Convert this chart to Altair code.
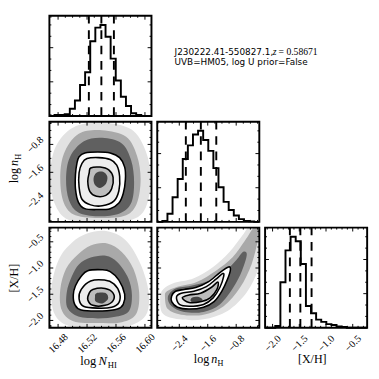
import altair as alt
import numpy as np
import pandas as pd

# ---------------- axis ranges / ticks ----------------
NHI_RANGE = [16.468, 16.609]
NH_RANGE = [-3.02, -0.15]
XH_RANGE = [-2.14, -0.23]
HIST_RANGE = [0.0, 1.1]

NHI_MAJOR = [16.48, 16.52, 16.56, 16.60]
NHI_MINOR = [16.47, 16.49, 16.50, 16.51, 16.53, 16.54, 16.55, 16.57, 16.58, 16.59]
NH_MAJOR = [-2.4, -1.6, -0.8]
NH_MINOR = [-3.0, -2.8, -2.6, -2.2, -2.0, -1.8, -1.4, -1.2, -1.0, -0.6, -0.4, -0.2]
XH_MAJOR = [-2.0, -1.5, -1.0, -0.5]
XH_MINOR = [-2.1, -1.9, -1.8, -1.7, -1.6, -1.4, -1.3, -1.2, -1.1, -0.9, -0.8, -0.7, -0.6, -0.4, -0.3]
HIST_MAJOR = [0.375, 0.75]
HIST_MINOR = [0.125, 0.25, 0.5, 0.625, 0.875, 1.0]

# ---------------- 1-D histograms (20 bins, peak-normalised) ----------------
NHI_HIST = [0.0, 0.01, 0.01, 0.02, 0.08, 0.17, 0.34, 0.48, 0.82, 0.97, 1.0, 0.87, 0.63, 0.39, 0.21, 0.11, 0.03, 0.01, 0.0, 0.0]
NH_HIST = [0.0, 0.01, 0.09, 0.27, 0.47, 0.69, 0.84, 0.96, 1.0, 0.90, 0.78, 0.59, 0.38, 0.22, 0.13, 0.07, 0.03, 0.01, 0.005, 0.0]
XH_HIST = [0.0, 0.0, 0.02, 0.5, 0.85, 1.0, 0.95, 0.7, 0.24, 0.16, 0.09, 0.065, 0.04, 0.03, 0.015, 0.01, 0.0, 0.0, 0.0, 0.0]

NHI_Q = [16.5225, 16.5398, 16.5571]
NH_Q = [-2.216, -1.794, -1.36]
XH_Q = [-1.676, -1.48, -1.27]

# ---------------- 2-D panels: point clouds and contours ----------------
# panel A: log N_HI (x) vs log n_H (y)
A_H1_X = [16.501, 16.541, 16.581, 16.601, 16.608, 16.601, 16.581, 16.541, 16.495, 16.475, 16.469, 16.477]
A_H1_Y = [-0.312, -0.177, -0.367, -0.989, -1.802, -2.614, -2.966, -3.020, -2.966, -2.479, -1.666, -0.854]
A_H2_X = [16.508, 16.541, 16.574, 16.589, 16.594, 16.589, 16.574, 16.541, 16.504, 16.488, 16.483, 16.488]
A_H2_Y = [-0.502, -0.394, -0.583, -1.125, -1.802, -2.479, -2.831, -2.912, -2.831, -2.479, -1.802, -1.071]
A_H3_X = [16.515, 16.541, 16.568, 16.581, 16.585, 16.581, 16.565, 16.535, 16.508, 16.495, 16.491, 16.496]
A_H3_Y = [-0.719, -0.610, -0.773, -1.260, -1.883, -2.479, -2.777, -2.858, -2.750, -2.398, -1.802, -1.179]
A_C1_X = [16.517, 16.535, 16.552, 16.565, 16.572, 16.573, 16.570, 16.564, 16.552, 16.535, 16.517, 16.508, 16.504, 16.504, 16.506, 16.509]
A_C1_Y = [-1.044, -1.017, -1.044, -1.179, -1.450, -1.802, -2.208, -2.479, -2.641, -2.668, -2.641, -2.452, -2.073, -1.666, -1.342, -1.152]
A_C2_X = [16.520, 16.536, 16.552, 16.561, 16.565, 16.564, 16.557, 16.541, 16.525, 16.513, 16.509, 16.509, 16.513]
A_C2_Y = [-1.206, -1.179, -1.233, -1.396, -1.721, -2.127, -2.425, -2.560, -2.533, -2.371, -2.018, -1.612, -1.342]
A_C3_X = [16.525, 16.538, 16.550, 16.556, 16.554, 16.546, 16.533, 16.524, 16.521, 16.523]
A_C3_Y = [-1.477, -1.450, -1.531, -1.748, -2.073, -2.262, -2.289, -2.154, -1.856, -1.612]
A_C4_X = [16.533, 16.542, 16.548, 16.546, 16.538, 16.531, 16.529]
A_C4_Y = [-1.612, -1.585, -1.721, -1.937, -2.046, -1.964, -1.775]

# panel B: log N_HI (x) vs [X/H] (y)
B_H1_X = [16.521, 16.548, 16.574, 16.594, 16.605, 16.601, 16.574, 16.535, 16.495, 16.475, 16.471, 16.481, 16.499]
B_H1_Y = [-0.337, -0.301, -0.480, -0.926, -1.462, -1.908, -2.122, -2.140, -2.104, -1.872, -1.372, -0.837, -0.516]
B_H2_X = [16.525, 16.548, 16.568, 16.584, 16.592, 16.588, 16.568, 16.535, 16.501, 16.485, 16.483, 16.491, 16.507]
B_H2_Y = [-0.569, -0.533, -0.694, -1.015, -1.462, -1.872, -2.033, -2.051, -2.015, -1.801, -1.408, -1.015, -0.748]
B_H3_X = [16.525, 16.546, 16.562, 16.577, 16.582, 16.578, 16.561, 16.535, 16.508, 16.493, 16.492, 16.499, 16.509]
B_H3_Y = [-0.801, -0.766, -0.890, -1.194, -1.515, -1.819, -1.926, -1.961, -1.926, -1.765, -1.462, -1.158, -0.926]
B_C1_X = [16.521, 16.541, 16.552, 16.564, 16.572, 16.570, 16.562, 16.541, 16.512, 16.503, 16.501, 16.504, 16.512]
B_C1_Y = [-1.051, -1.033, -1.069, -1.230, -1.497, -1.694, -1.783, -1.819, -1.801, -1.694, -1.515, -1.337, -1.158]
B_C2_X = [16.525, 16.544, 16.557, 16.565, 16.564, 16.554, 16.535, 16.515, 16.509, 16.512]
B_C2_Y = [-1.247, -1.230, -1.301, -1.480, -1.658, -1.747, -1.765, -1.729, -1.587, -1.408]
B_C3_X = [16.528, 16.545, 16.556, 16.556, 16.545, 16.528, 16.521, 16.523]
B_C3_Y = [-1.408, -1.390, -1.480, -1.622, -1.712, -1.712, -1.604, -1.480]
B_C4_X = [16.533, 16.546, 16.549, 16.541, 16.532, 16.531]
B_C4_Y = [-1.480, -1.480, -1.587, -1.676, -1.640, -1.551]

# panel C: log n_H (x) vs [X/H] (y)
C_H1_X = [-2.939, -2.858, -2.397, -1.720, -1.043, -0.502, -0.177, -0.014, -0.014, -0.366, -0.637, -0.989, -1.449, -1.991, -2.533, -2.858]
C_H1_Y = [-1.587, -1.872, -1.979, -1.979, -1.819, -1.462, -1.015, -0.480, -0.159, -0.159, -0.391, -0.694, -0.980, -1.194, -1.283, -1.408]
C_H2_X = [-2.803, -2.722, -2.343, -1.720, -1.152, -0.691, -0.366, -0.177, -0.096, -0.285, -0.556, -0.908, -1.368, -1.910, -2.451, -2.749]
C_H2_Y = [-1.551, -1.783, -1.890, -1.890, -1.729, -1.372, -0.926, -0.444, -0.212, -0.212, -0.480, -0.801, -1.051, -1.265, -1.355, -1.444]
C_H3_X = [-2.722, -2.614, -2.262, -1.720, -1.260, -0.881, -0.637, -0.502, -0.610, -0.827, -1.179, -1.585, -2.072, -2.506]
C_H3_Y = [-1.551, -1.729, -1.837, -1.837, -1.694, -1.372, -1.051, -0.748, -0.694, -0.873, -1.105, -1.247, -1.337, -1.390]
C_C1_X = [-2.614, -2.506, -2.262, -1.937, -1.585, -1.260, -1.016, -0.962, -1.043, -1.206, -1.422, -1.720, -2.126, -2.451, -2.614]
C_C1_Y = [-1.533, -1.444, -1.408, -1.372, -1.265, -1.087, -0.980, -1.033, -1.212, -1.444, -1.640, -1.747, -1.783, -1.747, -1.640]
C_C2_X = [-2.478, -2.343, -1.991, -1.639, -1.368, -1.179, -1.152, -1.260, -1.449, -1.720, -2.126, -2.397]
C_C2_Y = [-1.551, -1.480, -1.444, -1.355, -1.212, -1.105, -1.158, -1.372, -1.569, -1.694, -1.729, -1.694]
C_C3_X = [-2.316, -2.126, -1.802, -1.504, -1.314, -1.341, -1.531, -1.774, -2.126]
C_C3_Y = [-1.569, -1.515, -1.480, -1.372, -1.265, -1.408, -1.569, -1.640, -1.658]
C_C4_X = [-2.045, -1.856, -1.747, -1.883, -2.072]
C_C4_Y = [-1.569, -1.551, -1.604, -1.658, -1.640]

TITLE_LINE1 = "J230222.41-550827.1,"
TITLE_Z = "z"
TITLE_ZVAL = "= 0.58671"
TITLE_LINE2 = "UVB=HM05, log U prior=False"

# ---------------- styling ----------------
W, H = 106, 104
SERIF = "Liberation Serif"
SANS = "DejaVu Sans"
FILL_LEVELS = ["#e2e2e2", "#a9a9a9", "#606060"]
CONTOUR_FILLS = ["#ffffff", "#ededed", "#bdbdbd", "#454545"]
ONE = pd.DataFrame({"k": [0]})


def sc(rng):
    return alt.Scale(domain=rng, nice=False, zero=False)


def label_axis(values, fmt, orient, **extra):
    return alt.Axis(values=values, format=fmt, ticks=False, tickSize=0, domain=False,
                    grid=False, labelAngle=315, labelAlign="center", labelBaseline="middle",
                    labelPadding=16 if orient == "x" else 15, labelFont=SERIF, labelFontSize=10.5,
                    labelColor="black", labelOverlap=False, labelFlush=False,
                    orient="bottom" if orient == "x" else "left", **extra)


class Panel:
    def __init__(self, xr, yr, xax=None, yax=None):
        self.xr, self.yr, self.xax, self.yax = xr, yr, xax, yax
        self.layers = []

    def X(self, f="x"):
        return alt.X(f + ":Q", scale=sc(self.xr), axis=self.xax)

    def Y(self, f="y"):
        return alt.Y(f + ":Q", scale=sc(self.yr), axis=self.yax)

    def poly(self, xs, ys, fill=None, stroke=None, sw=0.0):
        df = pd.DataFrame({"x": xs, "y": ys, "i": range(len(xs))})
        kw = dict(interpolate="cardinal-closed", clip=True)
        if fill:
            kw["fill"] = fill
        if stroke:
            kw["stroke"] = stroke
            kw["strokeWidth"] = sw
        else:
            kw["strokeOpacity"] = 0
        self.layers.append(alt.Chart(df).mark_line(**kw).encode(
            x=self.X(), y=self.Y(), order=alt.Order("i:Q")))

    def hist(self, counts):
        edges = np.linspace(self.xr[0], self.xr[1], len(counts) + 1)
        ys = list(counts) + [counts[-1]]
        df = pd.DataFrame({"x": edges, "y": ys})
        self.layers.append(alt.Chart(df).mark_line(interpolate="step-after", color="black", strokeWidth=2).encode(
            x=self.X(), y=self.Y()))

    def quantiles(self, qs):
        df = pd.DataFrame({"x": qs})
        self.layers.append(alt.Chart(df).mark_rule(color="black", strokeWidth=2, strokeDash=[9, 7]).encode(
            x=self.X(), y=alt.value(H), y2=alt.value(0)))

    def ticks(self, xmaj, xmin, ymaj, ymin):
        for vals, L in ((xmaj, 4), (xmin, 2)):
            df = pd.DataFrame({"x": vals})
            for a, b in ((H, H - L), (0, L)):
                self.layers.append(alt.Chart(df).mark_rule(color="black", strokeWidth=1).encode(
                    x=self.X(), y=alt.value(a), y2=alt.value(b)))
        for vals, L in ((ymaj, 4), (ymin, 2)):
            df = pd.DataFrame({"y": vals})
            for a, b in ((0, L), (W, W - L)):
                self.layers.append(alt.Chart(df).mark_rule(color="black", strokeWidth=1).encode(
                    y=self.Y(), x=alt.value(a), x2=alt.value(b)))

    def frame(self):
        self.layers.append(alt.Chart(ONE).mark_rect(filled=False, stroke="black", strokeWidth=2).encode(
            x=alt.value(0), x2=alt.value(W), y=alt.value(0), y2=alt.value(H)))

    def text(self, txt, x, y, size, font=SERIF, style="normal", angle=0, dx=0, dy=0, align="left"):
        kw = dict(text=txt, font=font, fontSize=size, fontStyle=style, align=align, baseline="alphabetic",
                  color="black", dx=dx, dy=dy)
        if angle:
            kw["angle"] = angle
        self.layers.append(alt.Chart(ONE).mark_text(**kw).encode(x=alt.value(x), y=alt.value(y)))

    def chart(self):
        return alt.layer(*self.layers).properties(width=W, height=H)


def panel2d(xr, yr, xax, yax, hs, cs, xt, yt):
    p = Panel(xr, yr, xax, yax)
    for (xs, ys), f in zip(hs, FILL_LEVELS):
        p.poly(xs, ys, fill=f)
    for (xs, ys), f in zip(cs, CONTOUR_FILLS):
        p.poly(xs, ys, fill=f)
    for xs, ys in cs[:3]:
        p.poly(xs, ys, stroke="black", sw=1.6)
    p.ticks(xt[0], xt[1], yt[0], yt[1])
    p.frame()
    return p


def panel1d(xr, counts, qs, xt, xax=None):
    p = Panel(xr, HIST_RANGE, xax, None)
    p.hist(counts)
    p.quantiles(qs)
    p.ticks(xt[0], xt[1], HIST_MAJOR, HIST_MINOR)
    p.frame()
    return p


def blank():
    return alt.Chart(ONE).mark_point(opacity=0, size=1).encode(
        x=alt.value(W / 2), y=alt.value(H / 2)).properties(width=W, height=H)


NHI_T = (NHI_MAJOR, NHI_MINOR)
NH_T = (NH_MAJOR, NH_MINOR)
XH_T = (XH_MAJOR, XH_MINOR)

# row 1
h1 = panel1d(NHI_RANGE, NHI_HIST, NHI_Q, NHI_T)
ann = Panel(NHI_RANGE, HIST_RANGE)
ann.text(TITLE_LINE1, 18, 41, 9.2, font=SANS)
ann.text(TITLE_Z, 120, 41, 10, style="italic")
ann.text(TITLE_ZVAL, 126, 41, 10)
ann.text(TITLE_LINE2, 18, 51, 9.2, font=SANS)

# row 2
pa = panel2d(NHI_RANGE, NH_RANGE, None, label_axis(NH_MAJOR, ".1f", "y", title=None),
             [(A_H1_X, A_H1_Y), (A_H2_X, A_H2_Y), (A_H3_X, A_H3_Y)],
             [(A_C1_X, A_C1_Y), (A_C2_X, A_C2_Y), (A_C3_X, A_C3_Y), (A_C4_X, A_C4_Y)], NHI_T, NH_T)
pa.text("log", -33, 64, 12.5, angle=270)
pa.text("n", -33, 64, 12.5, style="italic", angle=270, dx=18)
pa.text("H", -33, 64, 8.5, angle=270, dx=24.5, dy=3)
h2 = panel1d(NH_RANGE, NH_HIST, NH_Q, NH_T)

# row 3
xh_left = label_axis(XH_MAJOR, ".1f", "y", title="[X/H]", titleFont=SERIF, titleFontSize=12.5,
                     titleFontWeight="normal", titleColor="black", titleX=-33, titleY=H / 2,
                     titleAngle=270, titleAlign="center", titleBaseline="alphabetic")
pb = panel2d(NHI_RANGE, XH_RANGE, label_axis(NHI_MAJOR, ".2f", "x", title=None), xh_left,
             [(B_H1_X, B_H1_Y), (B_H2_X, B_H2_Y), (B_H3_X, B_H3_Y)],
             [(B_C1_X, B_C1_Y), (B_C2_X, B_C2_Y), (B_C3_X, B_C3_Y), (B_C4_X, B_C4_Y)], NHI_T, XH_T)
pb.text("log", 32, H + 39, 13)
pb.text("N", 32, H + 39, 13, style="italic", dx=19)
pb.text("HI", 32, H + 39, 9, dx=28.5, dy=3)

pc = panel2d(NH_RANGE, XH_RANGE, label_axis(NH_MAJOR, ".1f", "x", title=None), None,
             [(C_H1_X, C_H1_Y), (C_H2_X, C_H2_Y), (C_H3_X, C_H3_Y)],
             [(C_C1_X, C_C1_Y), (C_C2_X, C_C2_Y), (C_C3_X, C_C3_Y), (C_C4_X, C_C4_Y)], NH_T, XH_T)
pc.text("log", 38, H + 37, 12.5)
pc.text("n", 38, H + 37, 12.5, style="italic", dx=18)
pc.text("H", 38, H + 37, 8.5, dx=24.5, dy=3)

h3 = panel1d(XH_RANGE, XH_HIST, XH_Q, XH_T, label_axis(XH_MAJOR, ".1f", "x", title=None))
h3.text("[X/H]", 49, H + 37, 12.5, align="center")

chart = alt.concat(
    h1.chart(), ann.chart(), blank(),
    pa.chart(), h2.chart(), blank(),
    pb.chart(), pc.chart(), h3.chart(),
    columns=3, spacing=6, bounds="flush",
).properties(padding=0).configure_view(stroke=None)

chart.save("out.html", embed_options={"renderer": "svg", "actions": False})
